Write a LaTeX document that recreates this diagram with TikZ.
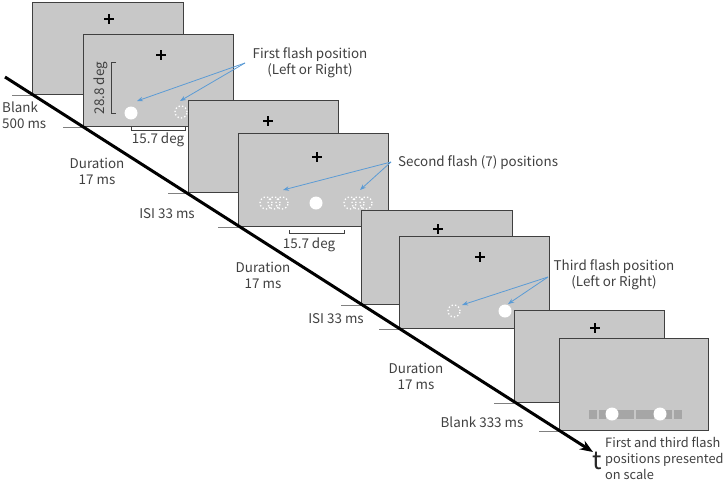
\documentclass[tikz,border=0pt]{standalone}
\usepackage{fontspec}
\setmainfont{Noto Sans CJK JP}
\usetikzlibrary{arrows.meta}
\definecolor{scr}{HTML}{C8C8C8}
\definecolor{edge}{HTML}{404040}
\definecolor{txt}{HTML}{404040}
\definecolor{arr}{HTML}{5B9BD5}
\definecolor{barc}{HTML}{A6A6A6}
\begin{document}
\begin{tikzpicture}[x=1pt,y=-1pt,
  screen/.style={draw=edge, line width=1.1pt, fill=scr, inner sep=0pt, anchor=north west},
  crossmark/.style={draw=black, line width=2pt},
  tickline/.style={draw=gray, line width=0.8pt},
  lbl/.style={text=txt, font=\fontsize{13.4}{16}\selectfont, align=center, inner sep=0pt},
  brk/.style={draw=edge, line width=0.7pt},
  barrow/.style={draw=arr, line width=0.8pt, -{Stealth[length=6pt,width=4.5pt]}},
  axisline/.style={draw=black, line width=3pt, -{Stealth[length=13pt,width=10pt]}},
  fdot/.style={circle, fill=white, minimum size=13pt, inner sep=0pt},
  fring/.style={circle, draw=white, line width=1.3pt, dash pattern=on 1.3pt off 2.2pt, minimum size=12pt, inner sep=0pt}
]
\useasboundingbox (0,0) rectangle (727,480);

% screens
\node[screen, minimum width=151pt, minimum height=92pt] (s1) at (32,2) {};
\draw[crossmark] (109,19) +(-5,0) -- +(5,0) +(0,-5) -- +(0,5);

\node[screen, minimum width=150pt, minimum height=92pt] (s2) at (83,34) {};
\draw[crossmark] (161,55) +(-5,0) -- +(5,0) +(0,-5) -- +(0,5);
\node[fdot] (c1a) at (131,113) {};
\node[fring] (c1b) at (181,112) {};
\draw[brk] (116,62) -- (111,62) -- (111,113) -- (116,113);
\node[lbl, rotate=90] (d3) at (101,88) {28.8 deg};

\node[screen, minimum width=150pt, minimum height=92pt] (s3) at (188,100) {};
\draw[crossmark] (268,121) +(-5,0) -- +(5,0) +(0,-5) -- +(0,5);

\node[screen, minimum width=150pt, minimum height=93pt] (s4) at (238,133) {};
\draw[crossmark] (317,157) +(-5,0) -- +(5,0) +(0,-5) -- +(0,5);
\node[fdot] (c2) at (316,203) {};
\foreach \xx/\nm in {266/a,274/b,282/c,350/d,358/e,366/f}
  \node[fring] (r2\nm) at (\xx,203) {};

\node[screen, minimum width=151pt, minimum height=94pt] (s5) at (361,210) {};
\draw[crossmark] (438,229) +(-5,0) -- +(5,0) +(0,-5) -- +(0,5);

\node[screen, minimum width=150pt, minimum height=92pt] (s6) at (399,236) {};
\draw[crossmark] (480,257) +(-5,0) -- +(5,0) +(0,-5) -- +(0,5);
\node[fring] (c3a) at (454,311) {};
\node[fdot] (c3b) at (505,311) {};

\node[screen, minimum width=150pt, minimum height=92pt] (s7) at (514,310) {};
\draw[crossmark] (595,328) +(-5,0) -- +(5,0) +(0,-5) -- +(0,5);

\node[screen, minimum width=149pt, minimum height=92pt] (s8) at (559,338) {};
\fill[barc] (589,410) rectangle (682,419);
\foreach \gx in {598,607,635,655,673}
  \fill[scr] (\gx-0.7,410) rectangle (\gx+0.7,419);
\node[fdot] (c4a) at (612,414) {};
\node[fdot] (c4b) at (660,414) {};

% tick lines at screen corners
\foreach \s in {s1,s2,s3,s4,s5,s6,s7,s8}
  \draw[tickline] (\s.south west) -- ++(-20,0);

% time axis
\coordinate (ax0) at (5,77);
\coordinate (ax1) at (593,452);
\draw[axisline] (ax0) -- (ax1);
\node[font=\fontsize{25}{25}\selectfont, text=black!85, inner sep=0pt] (tlab) at (597,461) {t};

% brackets
\draw[brk] (131,126) -- (131,130) -- (185,130) -- (185,126);
\draw[brk] (289,230) -- (289,233) -- (344,233) -- (344,230);
\node[lbl] (d1) at (158,140) {15.7 deg};
\node[lbl] (d2) at (309,245) {15.7 deg};

% timing labels
\node[lbl, anchor=west, align=left] (lb1) at (2,115) {Blank\\500 ms};
\node[lbl] (ld1) at (97,171) {Duration\\17 ms};
\node[lbl] (li1) at (167,214) {ISI 33 ms};
\node[lbl] (ld2) at (263,275) {Duration\\17 ms};
\node[lbl] (li2) at (336,319) {ISI 33 ms};
\node[lbl] (ld3) at (416,376) {Duration\\17 ms};
\node[lbl] (lb2) at (482,422) {Blank 333 ms};
\node[lbl, anchor=west, align=left, font=\fontsize{12.8}{16}\selectfont] (lfin) at (605,458) {First and third flash\\positions presented\\on scale};

% flash labels and arrows
\node[lbl] (lf1) at (310,63) {First flash position\\(Left or Right)};
\node[lbl, anchor=west] (lf2) at (398,163) {Second flash (7) positions};
\node[lbl] (lf3) at (614,275) {Third flash position\\(Left or Right)};

\coordinate (p1) at (245,63);
\coordinate (t1a) at (137,101);
\coordinate (t1b) at (180,101);
\draw[barrow] (p1) -- (t1a);
\draw[barrow] (p1) -- (t1b);

\coordinate (p2) at (391,162);
\coordinate (t2a) at (283,190);
\coordinate (t2b) at (360,190);
\draw[barrow] (p2) -- (t2a);
\draw[barrow] (p2) -- (t2b);

\coordinate (p3) at (548,277);
\coordinate (t3a) at (462,305);
\coordinate (t3b) at (508,304);
\draw[barrow] (p3) -- (t3a);
\draw[barrow] (p3) -- (t3b);
\end{tikzpicture}
\end{document}
